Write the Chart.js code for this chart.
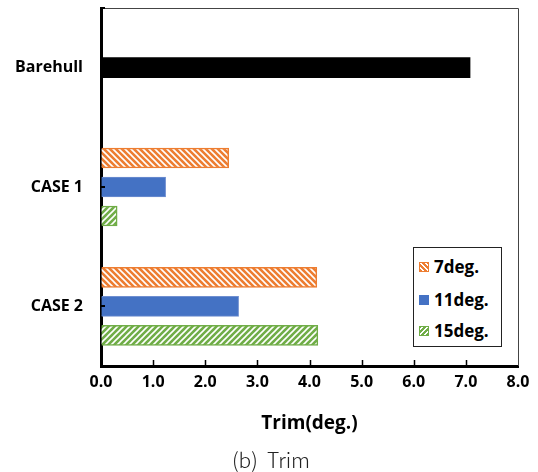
<!DOCTYPE html>
<html lang="en">
<head>
    <meta charset="UTF-8">
    <title>Trim</title>
    <script src="https://cdn.jsdelivr.net/npm/chart.js"></script>
    <style>
        body {
            margin: 0;
            padding: 0;
            background: #fff;
        }

        .wrap {
            position: relative;
            width: 538px;
            height: 472px;
        }

        .legend {
            position: absolute;
            left: 413px;
            top: 247px;
            width: 87px;
            height: 98px;
            border: 1px solid #222;
            background: #fff;
            font-family: 'Open Sans', sans-serif;
            font-weight: bold;
            font-size: 17px;
            color: #000;
        }

        .legend .row {
            position: absolute;
            left: 5px;
            height: 20px;
            line-height: 20px;
            white-space: nowrap;
        }

        .legend .sw {
            display: inline-block;
            width: 8px;
            height: 8px;
            margin-right: 5px;
            vertical-align: 1px;
        }

        .caption {
            position: absolute;
            left: 0;
            width: 542px;
            top: 444px;
            text-align: center;
            font-family: 'Noto Sans CJK KR', sans-serif;
            font-weight: 300;
            font-size: 21px;
            line-height: 30px;
            color: #222;
        }
    </style>
</head>
<body>
    <div class="wrap">
        <canvas id="trimChart" width="538" height="472"></canvas>
        <div class="legend">
            <div class="row" style="top: 9px;"><span class="sw" style="border: 1px solid #ED7D31; background: repeating-linear-gradient(45deg, #ED7D31 0 2px, #fff 2px 3.5px);"></span>7deg.</div>
            <div class="row" style="top: 42px;"><span class="sw" style="border: 1px solid #4472C4; background: #4472C4;"></span>11deg.</div>
            <div class="row" style="top: 73px;"><span class="sw" style="border: 1px solid #70AD47; background: repeating-linear-gradient(-45deg, #70AD47 0 2px, #fff 2px 3.5px);"></span>15deg.</div>
        </div>
        <div class="caption">(b)&nbsp;&nbsp;Trim</div>
    </div>

    <script>
        // values
        const categories = ['Barehull', 'CASE 1', 'CASE 2'];
        const barehull = [7.08, null, null];
        const deg7 = [null, 2.45, 4.14];
        const deg11 = [null, 1.24, 2.64];
        const deg15 = [null, 0.31, 4.16];
        const xTicks = [0, 1, 2, 3, 4, 5, 6, 7, 8];

        // hatched fills like the Excel pattern bars
        function hatch(color, slash) {
            const c = document.createElement('canvas');
            c.width = 6;
            c.height = 6;
            const g = c.getContext('2d');
            g.fillStyle = color;
            g.fillRect(0, 0, 6, 6);
            g.strokeStyle = '#fff';
            g.lineWidth = 1.6;
            g.beginPath();
            if (slash) {
                g.moveTo(0, 6); g.lineTo(6, 0);
                g.moveTo(-1, 1); g.lineTo(1, -1);
                g.moveTo(5, 7); g.lineTo(7, 5);
            } else {
                g.moveTo(0, 0); g.lineTo(6, 6);
                g.moveTo(-1, 5); g.lineTo(1, 7);
                g.moveTo(5, -1); g.lineTo(7, 1);
            }
            g.stroke();
            return g.createPattern(c, 'repeat');
        }

        // thin top/right frame and the little inward tick marks
        const frame = {
            id: 'frame',
            afterDraw(chart) {
                const { ctx, chartArea: a, scales: { x, y } } = chart;
                ctx.save();
                ctx.strokeStyle = '#444';
                ctx.lineWidth = 1;
                ctx.beginPath();
                ctx.moveTo(a.left, a.top + 0.5);
                ctx.lineTo(a.right + 0.5, a.top + 0.5);
                ctx.lineTo(a.right + 0.5, a.bottom);
                ctx.stroke();

                ctx.strokeStyle = '#000';
                ctx.lineWidth = 1.5;
                ctx.beginPath();
                xTicks.forEach(v => {
                    if (v === 0 || v === 8) return;
                    const px = Math.round(x.getPixelForValue(v)) + 0.5;
                    ctx.moveTo(px, a.bottom);
                    ctx.lineTo(px, a.bottom - 6);
                });
                ctx.stroke();

                ctx.lineWidth = 2;
                ctx.beginPath();
                categories.forEach((c, i) => {
                    const py = Math.round(y.getPixelForValue(i));
                    ctx.moveTo(a.left, py);
                    ctx.lineTo(a.left + 4, py);
                });
                ctx.moveTo(a.left, a.top);
                ctx.lineTo(a.left + 4, a.top);
                ctx.stroke();
                ctx.restore();
            }
        };

        const boldFont = { family: "'Open Sans', sans-serif", weight: 'bold', size: 16 };

        const ctx = document.getElementById('trimChart').getContext('2d');
        new Chart(ctx, {
            type: 'bar',
            data: {
                labels: categories,
                datasets: [
                    {
                        label: 'Barehull',
                        data: barehull,
                        backgroundColor: '#000',
                        borderWidth: 0
                    },
                    {
                        label: '7deg.',
                        data: deg7,
                        backgroundColor: hatch('#ED7D31', false),
                        borderColor: '#ED7D31',
                        borderWidth: 1.5
                    },
                    {
                        label: '11deg.',
                        data: deg11,
                        backgroundColor: '#4472C4',
                        borderColor: '#6f8fd0',
                        borderWidth: 1
                    },
                    {
                        label: '15deg.',
                        data: deg15,
                        backgroundColor: hatch('#70AD47', true),
                        borderColor: '#70AD47',
                        borderWidth: 1.5
                    }
                ]
            },
            options: {
                indexAxis: 'y',
                responsive: false,
                animation: false,
                skipNull: true,
                barThickness: 29,
                maxBarThickness: 20,
                layout: {
                    padding: { top: 8, right: 20, left: 0, bottom: 34 }
                },
                plugins: {
                    legend: { display: false },
                    tooltip: { enabled: false }
                },
                scales: {
                    x: {
                        min: 0,
                        max: 8,
                        afterFit: s => {
                            s.height = 72;
                            s.paddingLeft = 0;
                            s.paddingRight = 0;
                        },
                        afterBuildTicks: s => { s.ticks = xTicks.map(v => ({ value: v })); },
                        ticks: {
                            color: '#000',
                            font: boldFont,
                            padding: 7,
                            callback: v => Number(v).toFixed(1)
                        },
                        grid: { drawOnChartArea: false, drawTicks: false },
                        border: { color: '#000', width: 3 },
                        title: {
                            display: true,
                            text: 'Trim(deg.)',
                            color: '#000',
                            font: { family: "'Open Sans', sans-serif", weight: 'bold', size: 19 },
                            padding: { top: 0, bottom: 3 }
                        }
                    },
                    y: {
                        afterFit: s => {
                            s.width = 101;
                            s.paddingTop = 0;
                            s.paddingBottom = 0;
                        },
                        ticks: {
                            color: '#000',
                            font: boldFont,
                            padding: 18
                        },
                        grid: { drawOnChartArea: false, drawTicks: false },
                        border: { color: '#000', width: 3 }
                    }
                }
            },
            plugins: [frame]
        });
    </script>
</body>
</html>
